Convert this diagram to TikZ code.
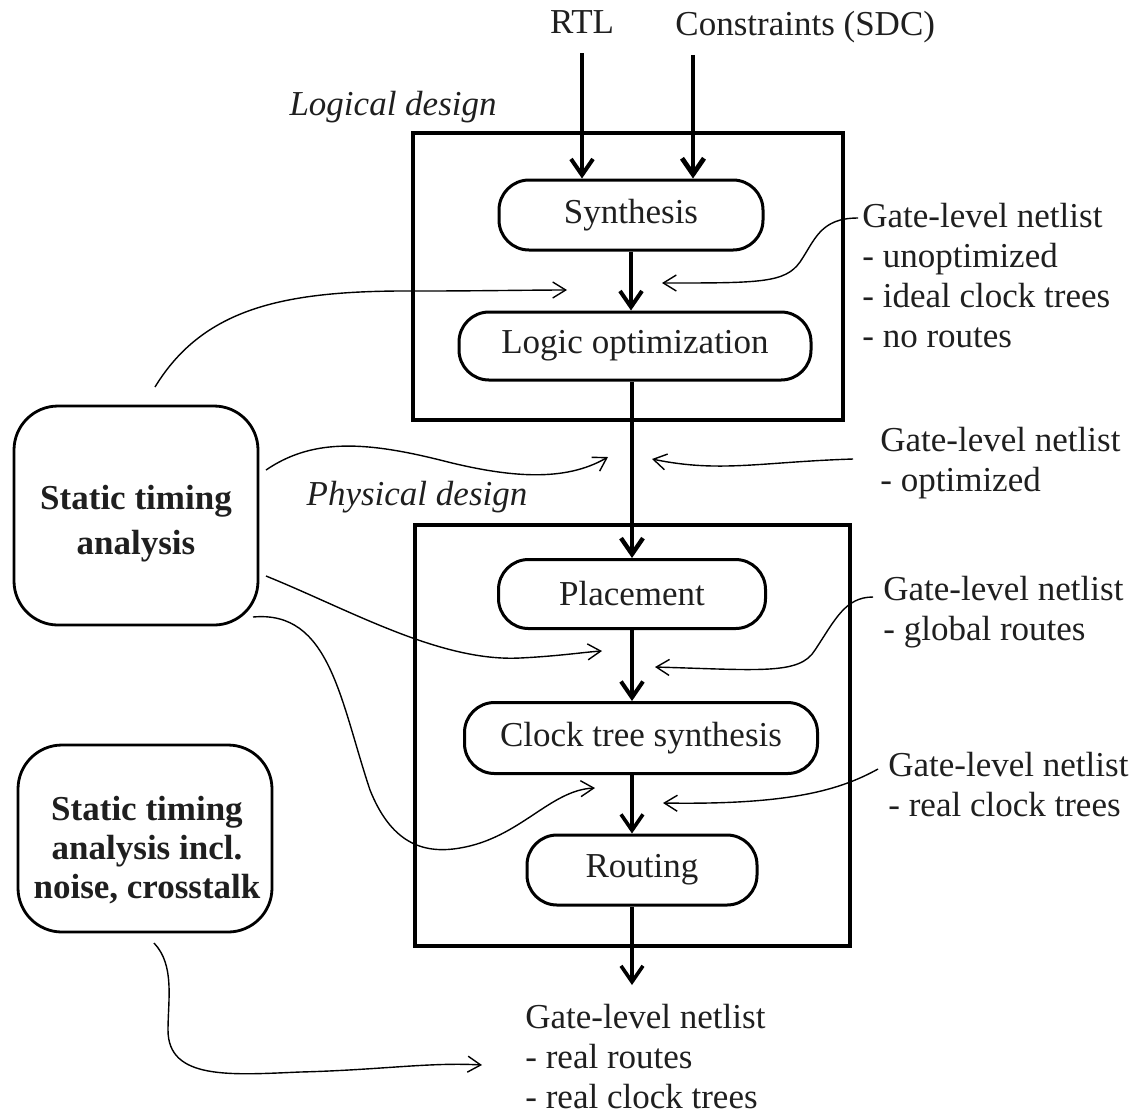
\documentclass[tikz,border=0pt]{standalone}
\usepackage{fontspec}
\setmainfont{Liberation Serif}
\usetikzlibrary{arrows.meta}

\begin{document}
\begin{tikzpicture}[x=0.5pt,y=-0.5pt,
  every node/.style={inner sep=0pt, text=black!88},
  txt/.style={font=\fontsize{17.5}{20}\selectfont},
  itxt/.style={font=\itshape\fontsize{17.5}{20}\selectfont},
  pill/.style={draw=black, line width=1.5pt, rounded corners=15pt,
    font=\fontsize{17.5}{20}\selectfont},
  stage/.style={draw=black, line width=2pt},
  stabox/.style={draw=black, line width=1.4pt, rounded corners=22pt},
  stalabel/.style={align=center, font=\bfseries\fontsize{17.5}{22.5}\selectfont},
  netnote/.style={txt, align=left, anchor=north west},
  flow/.style={line width=2pt, -{Straight Barb[length=8pt,width=11pt]}},
  hint/.style={line width=0.7pt, -{Straight Barb[length=6.5pt,width=8pt]}},
]
\useasboundingbox (0,0) rectangle (1139,1115);

% inputs and design-phase captions
\node[txt, anchor=base] (rtl) at (582,33) {RTL};
\node[txt, anchor=base west] (sdc) at (675,35) {Constraints (SDC)};
\node[itxt, anchor=base east] (logical) at (497,115) {Logical design};
\node[itxt, anchor=base] (physical) at (417,505) {Physical design};

% phase frames
\node[stage, minimum width=215pt, minimum height=143.5pt] (logbox) at (628,276.5) {};
\node[stage, minimum width=217.5pt, minimum height=210.5pt] (physbox) at (632.5,735.5) {};

% flow steps
\node[pill, minimum width=132pt, minimum height=35pt] (syn) at (631,215) {Synthesis};
\node[pill, minimum width=176pt, minimum height=34pt] (lopt) at (635,346) {Logic optimization};
\node[pill, minimum width=133.5pt, minimum height=34.5pt] (place) at (632,594) {Placement};
\node[pill, minimum width=176.5pt, minimum height=35.5pt] (cts) at (641,738) {Clock tree synthesis};
\node[pill, minimum width=115pt, minimum height=35pt] (route) at (642,870) {Routing};

% timing analysis boxes
\node[stabox, minimum width=122pt, minimum height=109.5pt] (sta) at (136,515.5) {};
\node[stalabel] (statext) at ([yshift=-4pt]sta.center) {Static timing\\analysis};
\node[stabox, minimum width=127pt, minimum height=93.5pt] (sta2) at (145,838.5) {};
\node[stalabel, font=\bfseries\fontsize{17.5}{19.5}\selectfont] (sta2text)
  at ([xshift=1pt,yshift=-6pt]sta2.center)
  {Static timing\\analysis incl.\\noise, crosstalk};

% netlist annotations
\node[netnote] (net1) at (862,203)
  {Gate-level netlist\\- unoptimized\\- ideal clock trees\\- no routes};
\node[netnote] (net2) at (880,427) {Gate-level netlist\\- optimized};
\node[netnote] (net3) at (883,576) {Gate-level netlist\\- global routes};
\node[netnote] (net4) at (888,752) {Gate-level netlist\\- real clock trees};
\node[netnote] (net5) at (525,1004)
  {Gate-level netlist\\- real routes\\- real clock trees};

% main flow
\draw[flow] ([yshift=-10pt]rtl.south) -- (rtl.south |- syn.north);
\draw[flow, line width=2.4pt] ([xshift=9pt,yshift=-6pt]sdc.south west)
  -- ([xshift=9pt]sdc.south west |- syn.north);
\draw[flow] (syn.south) -- (syn.south |- lopt.north);
\draw[flow, line width=2.2pt] (place.north |- lopt.south) -- (place.north);
\draw[flow] (place.south) -- (place.south |- cts.north);
\draw[flow, line width=1.8pt] (place.south |- cts.south) -- (place.south |- route.north);
\coordinate (outtip) at (632,985);
\draw[flow, line width=1.8pt] (place.south |- route.south) -- (outtip);

% timing analysis hooks into the flow
\coordinate (a1s) at (155,387);   \coordinate (a1t) at (567,290);
\coordinate (a2s) at (266,470);   \coordinate (a2t) at (608,457);
\coordinate (a3s) at (266,576);   \coordinate (a3t) at (602,651);
\coordinate (a4s) at (253,617);   \coordinate (a4t) at (595,788);
\coordinate (a5s) at (154,943);   \coordinate (a5t) at (482,1065);
\draw[hint] (a1s) .. controls (205,305) and (290,290) .. (420,291)
  .. controls (480,291) and (530,290) .. (a1t);
\draw[hint] (a2s) .. controls (310,440) and (360,440) .. (440,460)
  .. controls (510,478) and (565,482) .. (a2t);
\draw[hint] (a3s) .. controls (350,610) and (440,662) .. (520,658)
  .. controls (560,656) and (585,652) .. (a3t);
\draw[hint] (a4s) .. controls (330,610) and (340,700) .. (370,790)
  .. controls (390,840) and (420,855) .. (460,848)
  .. controls (520,838) and (550,790) .. (a4t);
\draw[hint] (a5s) .. controls (175,965) and (168,1000) .. (168,1030)
  .. controls (168,1080) and (230,1075) .. (300,1072)
  .. controls (380,1070) and (430,1062) .. (a5t);

% netlist annotations pointing at the flow
\coordinate (b1s) at (858,218);   \coordinate (b1t) at (662,283);
\coordinate (b2s) at (853,459);   \coordinate (b2t) at (652,459);
\coordinate (b3s) at (873,597);   \coordinate (b3t) at (655,667);
\coordinate (b4s) at (878,769);   \coordinate (b4t) at (663,803);
\draw[hint] (b1s) .. controls (820,218) and (815,240) .. (800,262)
  .. controls (785,283) and (760,283) .. (b1t);
\draw[hint] (b2s) .. controls (760,462) and (720,473) .. (b2t);
\draw[hint] (b3s) .. controls (845,597) and (835,620) .. (815,650)
  .. controls (800,675) and (760,670) .. (b3t);
\draw[hint] (b4s) .. controls (840,790) and (790,805) .. (b4t);
\end{tikzpicture}
\end{document}
